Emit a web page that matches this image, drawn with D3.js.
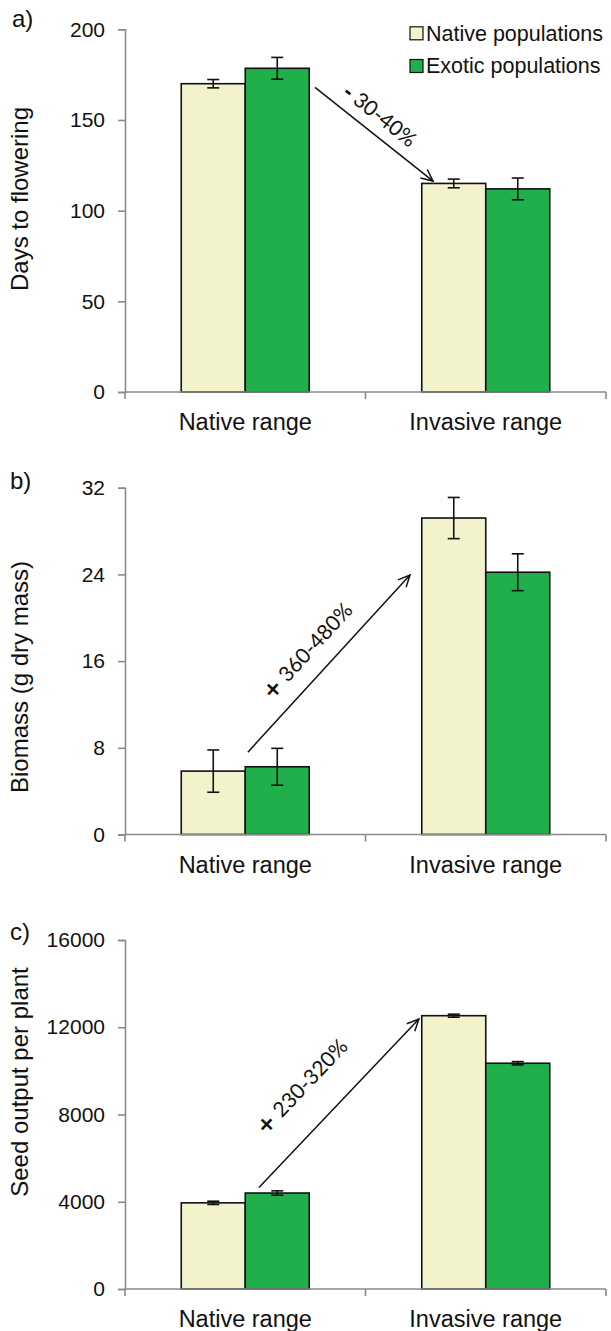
<!DOCTYPE html>
<html>
<head>
<meta charset="utf-8">
<script src="https://cdn.jsdelivr.net/npm/d3@7/dist/d3.min.js"></script>
<style>
  html, body { margin: 0; padding: 0; background: #fff; }
  svg { display: block; }
  text { font-family: "Liberation Sans", Arial, sans-serif; fill: #111; }
  .annot { font-family: Lato, "Open Sans", sans-serif; }
</style>
</head>
<body>
<script>
// ---------- DATA ----------
const categories = ["Native range", "Invasive range"];
const seriesNames = ["Native populations", "Exotic populations"];

const daysTicks = [0, 50, 100, 150, 200];
const daysNative = [170, 115];
const daysNativeErr = [2.3, 2.4];
const daysExotic = [178.5, 112];
const daysExoticErr = [6, 6];

const biomassTicks = [0, 8, 16, 24, 32];
const biomassNative = [5.85, 29.2];
const biomassNativeErr = [1.95, 1.9];
const biomassExotic = [6.25, 24.2];
const biomassExoticErr = [1.7, 1.7];

const seedTicks = [0, 4000, 8000, 12000, 16000];
const seedNative = [3950, 12530];
const seedNativeErr = [75, 70];
const seedExotic = [4400, 10350];
const seedExoticErr = [100, 75];

// arrows in data units: x = category position (0..2), y = value
const arrowFrom = [[0.79, 168], [0.511, 7.6], [0.557, 4650]];
const arrowTo = [[1.281, 116.3], [1.185, 23.95], [1.222, 12380]];
const arrowSigns = ["-", "+", "+"];
const arrowLabels = ["30-40%", "360-480%", "230-320%"];

// ---------- LAYOUT / STYLE ----------
const W = 611, H = 1331;
const colors = ["#f2f3cd", "#21af4b"];
const axisColor = "#8a8a8a";
const xLeft = 125, xRight = 606;

const panels = [
  { label: "a)", title: "Days to flowering", ticks: daysTicks,
    vals: [daysNative, daysExotic], errs: [daysNativeErr, daysExoticErr],
    top: 29.3, bottom: 392, titleY: 199, labelX: 12, labelY: 27,
    ann: { along: 25, base: -11 } },
  { label: "b)", title: "Biomass (g dry mass)", ticks: biomassTicks,
    vals: [biomassNative, biomassExotic], errs: [biomassNativeErr, biomassExoticErr],
    top: 487.7, bottom: 834.5, titleY: 677, labelX: 10, labelY: 489,
    ann: { along: 54, base: -17 } },
  { label: "c)", title: "Seed output per plant", ticks: seedTicks,
    vals: [seedNative, seedExotic], errs: [seedNativeErr, seedExoticErr],
    top: 940, bottom: 1289, titleY: 1082, labelX: 10, labelY: 940,
    ann: { along: 42, base: -31 } }
];

const svg = d3.select("body").append("svg").attr("width", W).attr("height", H);

const x = d3.scaleBand().domain(categories).range([xLeft, xRight]).padding(0);
const xs = d3.scaleBand().domain(seriesNames).range([0, x.bandwidth()])
  .paddingInner(0).paddingOuter(0.879);
const xLin = d3.scaleLinear().domain([0, categories.length]).range([xLeft, xRight]);

panels.forEach((p, pi) => {
  const g = svg.append("g");
  const y = d3.scaleLinear().domain([0, d3.max(p.ticks)]).range([p.bottom, p.top]);

  // y axis
  const ya = g.append("g").attr("transform", `translate(${xLeft},0)`)
    .call(d3.axisLeft(y).tickValues(p.ticks).tickSize(7).tickPadding(13).tickFormat(d3.format("d")));
  ya.select(".domain").attr("stroke", axisColor).attr("stroke-width", 1.6);
  ya.selectAll(".tick line").attr("stroke", axisColor).attr("stroke-width", 1.6);
  ya.selectAll(".tick text").style("font-family", '"Liberation Sans", Arial, sans-serif')
    .style("font-size", "21px").attr("fill", "#111");

  // bars
  categories.forEach((c, ci) => {
    seriesNames.forEach((s, si) => {
      const v = p.vals[si][ci], e = p.errs[si][ci];
      const bx = x(c) + xs(s), bw = xs.bandwidth();
      g.append("rect").attr("x", bx).attr("y", y(v))
        .attr("width", bw).attr("height", y(0) - y(v))
        .attr("fill", colors[si]).attr("stroke", "#111").attr("stroke-width", 1.6);
      const cx = bx + bw / 2;
      const eg = g.append("g").attr("stroke", "#111").attr("stroke-width", 1.6);
      eg.append("line").attr("x1", cx).attr("x2", cx).attr("y1", y(v + e)).attr("y2", y(v - e));
      eg.append("line").attr("x1", cx - 6).attr("x2", cx + 6).attr("y1", y(v + e)).attr("y2", y(v + e));
      eg.append("line").attr("x1", cx - 6).attr("x2", cx + 6).attr("y1", y(v - e)).attr("y2", y(v - e));
    });
  });

  // x axis
  g.append("line").attr("x1", xLeft).attr("x2", xRight).attr("y1", y(0)).attr("y2", y(0))
    .attr("stroke", axisColor).attr("stroke-width", 1.6);
  const edges = categories.map(c => x(c)).concat([x(categories[categories.length - 1]) + x.bandwidth()]);
  g.selectAll(".xt").data(edges).enter().append("line")
    .attr("x1", d => d).attr("x2", d => d).attr("y1", y(0)).attr("y2", y(0) + 7)
    .attr("stroke", axisColor).attr("stroke-width", 1.6);
  g.selectAll(".xl").data(categories).enter().append("text")
    .attr("x", d => x(d) + x.bandwidth() / 2).attr("y", y(0) + 38)
    .attr("text-anchor", "middle").style("font-size", "23.5px").text(d => d);

  // y title
  g.append("text").attr("transform", `translate(28,${p.titleY}) rotate(-90)`)
    .attr("text-anchor", "middle").style("font-size", "24px").text(p.title);

  // panel label
  g.append("text").attr("x", p.labelX).attr("y", p.labelY).style("font-size", "24px").text(p.label);

  // arrow
  const x1 = xLin(arrowFrom[pi][0]), y1 = y(arrowFrom[pi][1]);
  const x2 = xLin(arrowTo[pi][0]), y2 = y(arrowTo[pi][1]);
  const ang = Math.atan2(y2 - y1, x2 - x1);
  g.append("line").attr("x1", x1).attr("y1", y1).attr("x2", x2).attr("y2", y2)
    .attr("stroke", "#111").attr("stroke-width", 1.5);
  const hl = 13, ha = 25 * Math.PI / 180;
  const headPts = [
    [x2 - hl * Math.cos(ang - ha), y2 - hl * Math.sin(ang - ha)],
    [x2, y2],
    [x2 - hl * Math.cos(ang + ha), y2 - hl * Math.sin(ang + ha)]
  ];
  g.append("path").attr("d", d3.line()(headPts)).attr("fill", "none")
    .attr("stroke", "#111").attr("stroke-width", 1.5);

  const deg = ang * 180 / Math.PI;
  const t = g.append("text").attr("class", "annot")
    .attr("transform", `translate(${x1},${y1}) rotate(${deg})`)
    .attr("x", p.ann.along).attr("y", p.ann.base).style("font-size", "21px");
  t.append("tspan")
    .style("font-family", '"DejaVu Sans", sans-serif')
    .style("font-weight", "bold")
    .style("font-size", arrowSigns[pi] === "-" ? "19px" : "22px")
    .text(arrowSigns[pi]);
  t.append("tspan").text(" " + arrowLabels[pi]);
});

// legend
const lg = svg.append("g");
seriesNames.forEach((s, i) => {
  const cy = 33.3 + i * 32.7;
  lg.append("rect").attr("x", 410).attr("y", cy - 6.5).attr("width", 13).attr("height", 13)
    .attr("fill", colors[i]).attr("stroke", "#111").attr("stroke-width", 1.2);
  lg.append("text").attr("x", 426).attr("y", cy + 7.3).style("font-size", "21.5px").text(s);
});
</script>
</body>
</html>
